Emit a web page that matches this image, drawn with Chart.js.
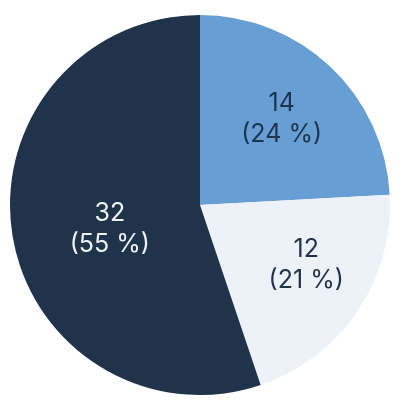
<!DOCTYPE html>
<html>
<head>
<meta charset="utf-8">
<script src="https://cdn.jsdelivr.net/npm/chart.js@4"></script>
<style>
html,body{margin:0;padding:0;background:#fff}
#wrap{width:400px;height:409px}
</style>
</head>
<body>
<div id="wrap"><canvas id="pieChart"></canvas></div>
<script>
const labels = ["A","B","C"]
const values = [14,12,32]
const colors = ["#679fd4","#edf1f8","#1f344a"]
const textColors = ["#1f344a","#1f344a","#eef2f8"]
// label placement: fraction of radius and angle nudge (degrees)
const labelRadius = [0.625,0.64,0.49]
const labelTurn = [0,-5,-5]

const pieLabels = {
id:"pieLabels",
afterDatasetsDraw(chart){
const ctx = chart.ctx
const meta = chart.getDatasetMeta(0)
const total = values.reduce((a,b)=>a+b,0)
ctx.save()
ctx.font = "25px Inter, 'Open Sans', sans-serif"
ctx.textAlign = "center"
ctx.textBaseline = "middle"
meta.data.forEach((arc,i)=>{
const mid = (arc.startAngle+arc.endAngle)/2+labelTurn[i]*Math.PI/180
const r = arc.outerRadius*labelRadius[i]
const x = arc.x+Math.cos(mid)*r
const y = arc.y+Math.sin(mid)*r
const pct = Math.round(values[i]/total*100)
ctx.fillStyle = textColors[i]
ctx.fillText(String(values[i]),x,y-15)
ctx.fillText("("+pct+" %)",x,y+16)
})
ctx.restore()
}
}

new Chart(document.getElementById("pieChart"),{
type:"pie",
data:{
labels:labels,
datasets:[{
data:values,
backgroundColor:colors,
borderWidth:0
}]
},
options:{
responsive:true,
maintainAspectRatio:false,
animation:false,
layout:{padding:{top:15,bottom:14,left:10,right:10}},
plugins:{
legend:{display:false},
tooltip:{enabled:false}
}
},
plugins:[pieLabels]
})
</script>
</body>
</html>
